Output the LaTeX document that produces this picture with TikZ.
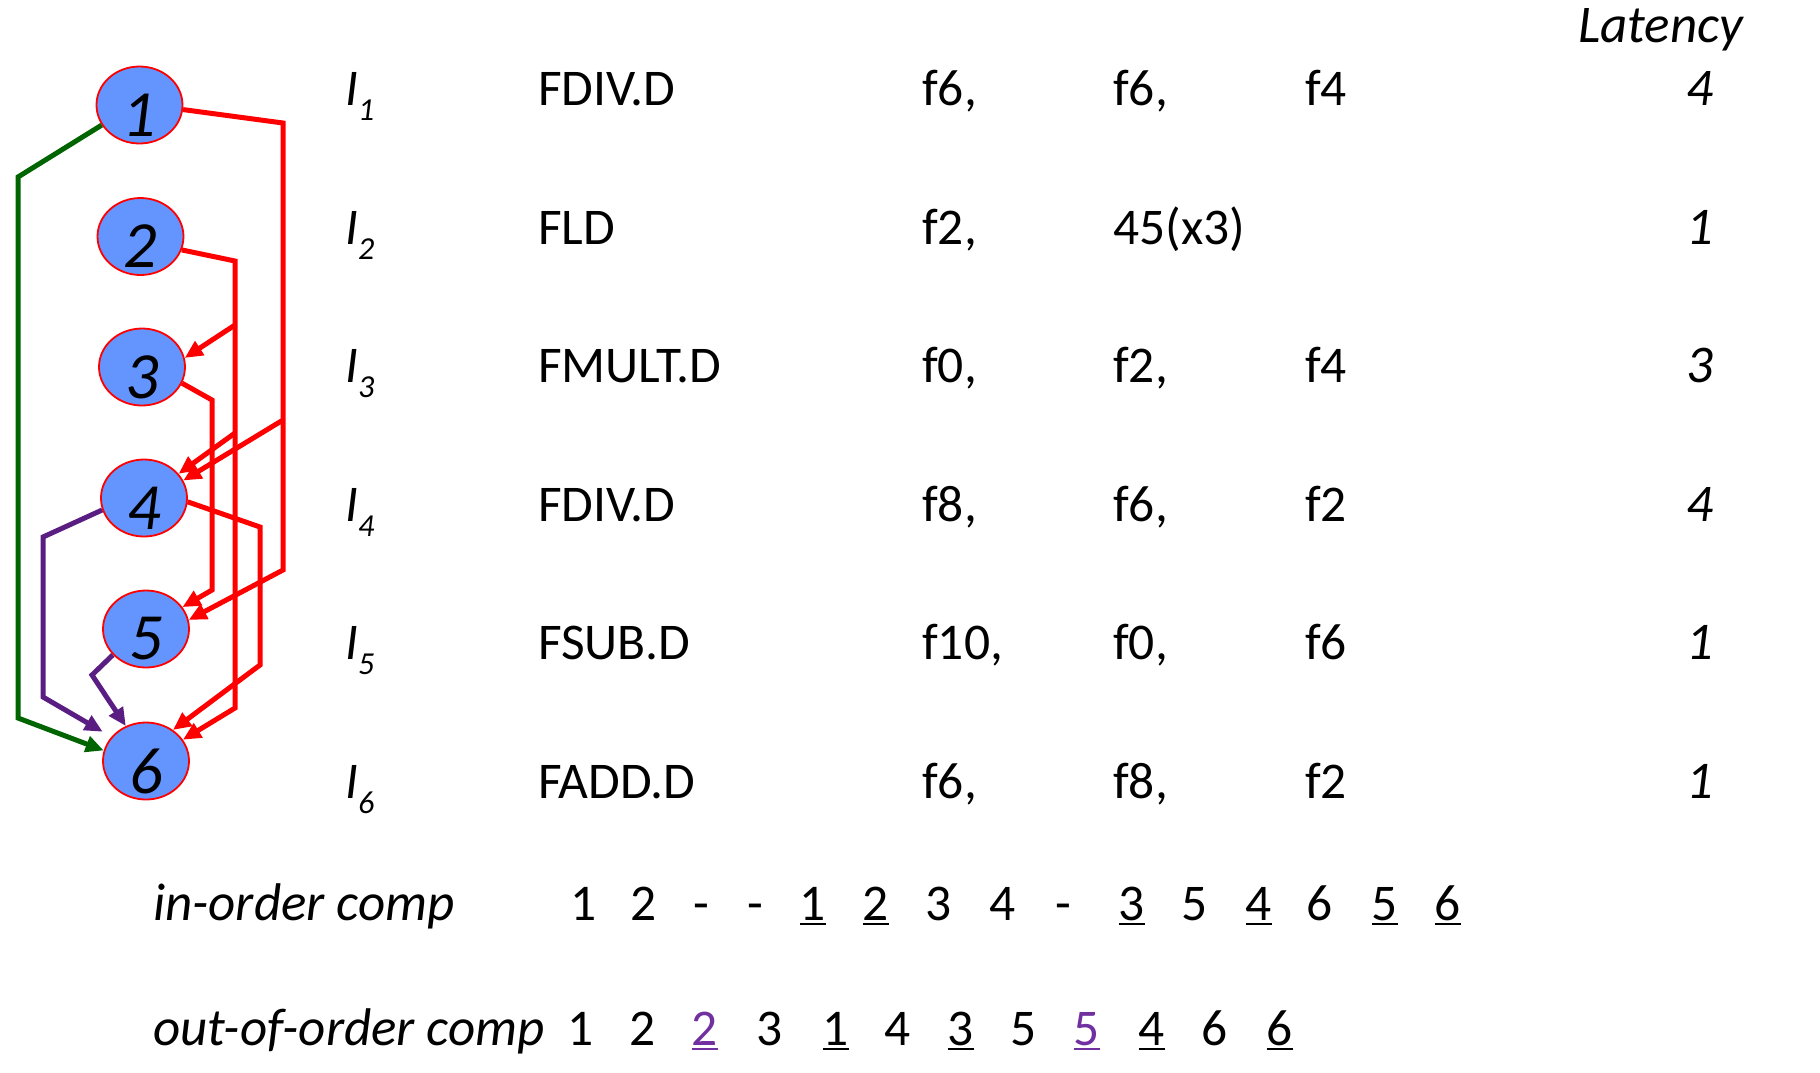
\documentclass[tikz,border=0pt]{standalone}
\usepackage{fontspec}
\setmainfont{Carlito}
\usetikzlibrary{shapes.geometric,arrows.meta}
\definecolor{nodeblue}{RGB}{100,149,255}
\definecolor{depred}{RGB}{255,0,0}
\definecolor{depgreen}{RGB}{0,100,0}
\definecolor{deppurple}{RGB}{90,30,130}
\definecolor{txtpurple}{RGB}{112,48,160}
\newcommand{\undl}[1]{\setbox0=\hbox{#1}\rlap{\rule[-5pt]{\wd0}{2.5pt}}\box0}
\newcommand{\ilab}[1]{\textit{I}\raisebox{-15pt}{\fontsize{32}{32}\selectfont\itshape #1}}
\newcommand{\nodefnt}{\fontsize{66}{66}\selectfont\itshape}
\newcommand{\mainfnt}{\fontsize{51.5}{51.5}\selectfont}
\newcommand{\itfnt}{\fontsize{53}{53}\selectfont\itshape}
\begin{document}
\begin{tikzpicture}[x=1pt,y=-1pt,font=\mainfnt,
  dnode/.style={ellipse, draw=depred, line width=1.8pt, fill=nodeblue,
    minimum width=86pt, minimum height=77pt, inner sep=0pt},
  dep/.style={line width=5pt, -{Triangle[length=18pt,width=16pt]}},
  redline/.style={dep, draw=depred, color=depred},
  greenline/.style={dep, draw=depgreen, color=depgreen},
  purpleline/.style={dep, draw=deppurple, color=deppurple},
  txt/.style={anchor=base west, inner sep=0pt},
  num/.style={anchor=base, inner sep=0pt},
  itnum/.style={anchor=base, inner sep=0pt, font=\itfnt}]
\useasboundingbox (0,0) rectangle (1820,1072);

% dependency graph nodes
\node[dnode, label={[font=\nodefnt, yshift=-10pt]center:1}] (n1) at (139.5,105) {};
\node[dnode, label={[font=\nodefnt, yshift=-10pt]center:2}] (n2) at (140.5,236.5) {};
\node[dnode, label={[font=\nodefnt, yshift=-10pt]center:3}] (n3) at (142,367) {};
\node[dnode, label={[font=\nodefnt, yshift=-10pt]center:4}] (n4) at (144,498) {};
\node[dnode, label={[font=\nodefnt, yshift=-10pt]center:5}] (n5) at (146,629) {};
\node[dnode, label={[font=\nodefnt, yshift=-10pt]center:6}] (n6) at (146,761) {};

% branch points
\coordinate (b14) at (283,420);
\coordinate (b23) at (235,325);
\coordinate (b24) at (235,433);

% green (WAW 1->6)
\draw[greenline] (n1.208) -- (18,177) -- (18,718) -- (n6.166);

% red (RAW)
\draw[redline] (n1.354) -- (283,123) -- (283,570) -- (n5.12);
\draw[redline] (b14) -- (n4.24);
\draw[redline] (n2.342) -- (235,261) -- (235,708) -- (n6.30);
\draw[redline] (b23) -- (n3.12);
\draw[redline] (b24) -- (n4.35);
\draw[redline] (n3.338) -- (212,400) -- (212,590) -- (n5.31);
\draw[redline] (n4.355) -- (260,527) -- (260,665) -- (n6.49);

% purple (WAR)
\draw[purpleline, shorten >=10pt] (n4.196) -- (43,537) -- (43,697) -- (n6.145);
\draw[purpleline] (n5.218) -- (92,675) -- (n6.120);

% header
\node[txt, font=\itfnt] (lath) at (1578,42) {Latency};

% instruction table
\node[txt] (i1) at (345,105) {\ilab{1}};
\node[txt] (m1) at (538,105) {FDIV.D};
\node[txt] (a1) at (922,105) {f6,};
\node[txt] (b1) at (1113,105) {f6,};
\node[txt] (c1) at (1305,105) {f4};
\node[itnum] (l1) at (1700,105) {4};

\node[txt] (i2) at (345,244) {\ilab{2}};
\node[txt] (m2) at (538,244) {FLD};
\node[txt] (a2) at (922,244) {f2,};
\node[txt] (b2) at (1113,244) {45(x3)};
\node[itnum] (l2) at (1700,244) {1};

\node[txt] (i3) at (345,382) {\ilab{3}};
\node[txt] (m3) at (538,382) {FMULT.D};
\node[txt] (a3) at (922,382) {f0,};
\node[txt] (b3) at (1113,382) {f2,};
\node[txt] (c3) at (1305,382) {f4};
\node[itnum] (l3) at (1700,382) {3};

\node[txt] (i4) at (345,521) {\ilab{4}};
\node[txt] (m4) at (538,521) {FDIV.D};
\node[txt] (a4) at (922,521) {f8,};
\node[txt] (b4) at (1113,521) {f6,};
\node[txt] (c4) at (1305,521) {f2};
\node[itnum] (l4) at (1700,521) {4};

\node[txt] (i5) at (345,659) {\ilab{5}};
\node[txt] (m5) at (538,659) {FSUB.D};
\node[txt] (a5) at (922,659) {f10,};
\node[txt] (b5) at (1113,659) {f0,};
\node[txt] (c5) at (1305,659) {f6};
\node[itnum] (l5) at (1700,659) {1};

\node[txt] (i6) at (345,798) {\ilab{6}};
\node[txt] (m6) at (538,798) {FADD.D};
\node[txt] (a6) at (922,798) {f6,};
\node[txt] (b6) at (1113,798) {f8,};
\node[txt] (c6) at (1305,798) {f2};
\node[itnum] (l6) at (1700,798) {1};

% in-order completion
\node[txt, font=\itfnt] (inl) at (153,920) {in-order comp};
\node[num] (io1) at (584,920) {1};
\node[num] (io2) at (644,920) {2};
\node[num] (io3) at (701,920) {-};
\node[num] (io4) at (755,920) {-};
\node[num] (io5) at (813,920) {\undl{1}};
\node[num] (io6) at (876,920) {\undl{2}};
\node[num] (io7) at (939,920) {3};
\node[num] (io8) at (1003,920) {4};
\node[num] (io9) at (1063,920) {-};
\node[num] (io10) at (1132,920) {\undl{3}};
\node[num] (io11) at (1195,920) {5};
\node[num] (io12) at (1259,920) {\undl{4}};
\node[num] (io13) at (1320,920) {6};
\node[num] (io14) at (1385,920) {\undl{5}};
\node[num] (io15) at (1448,920) {\undl{6}};

% out-of-order completion
\node[txt, font=\itfnt] (ool) at (153,1045) {out-of-order comp};
\node[num] (oo1) at (581,1045) {1};
\node[num] (oo2) at (643,1045) {2};
\node[num, text=txtpurple] (oo3) at (705,1045) {\undl{2}};
\node[num] (oo4) at (770,1045) {3};
\node[num] (oo5) at (836,1045) {\undl{1}};
\node[num] (oo6) at (898,1045) {4};
\node[num] (oo7) at (961,1045) {\undl{3}};
\node[num] (oo8) at (1024,1045) {5};
\node[num, text=txtpurple] (oo9) at (1087,1045) {\undl{5}};
\node[num] (oo10) at (1152,1045) {\undl{4}};
\node[num] (oo11) at (1215,1045) {6};
\node[num] (oo12) at (1280,1045) {\undl{6}};
\end{tikzpicture}
\end{document}
